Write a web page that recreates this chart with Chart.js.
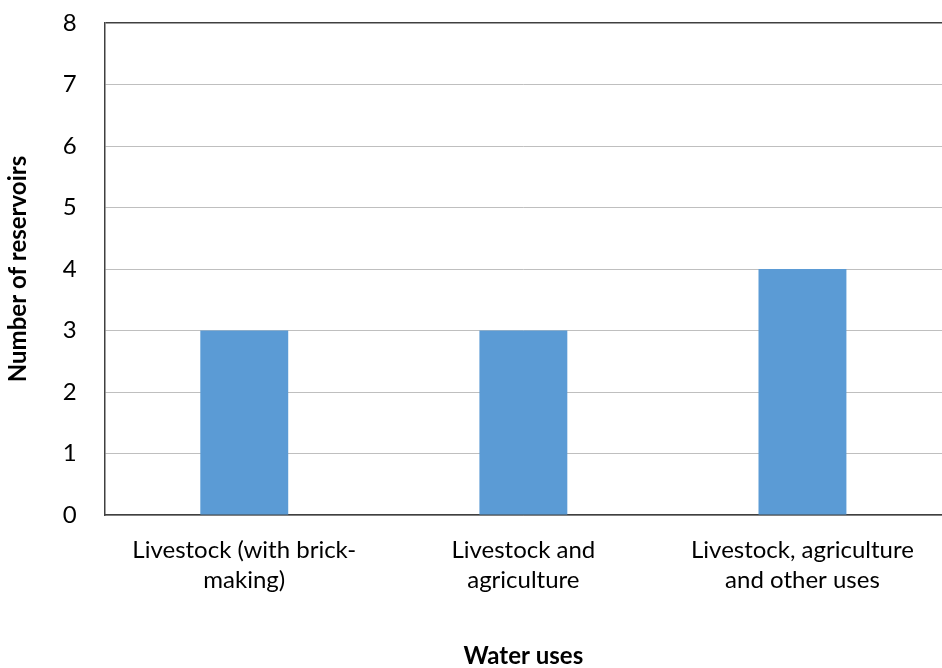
<!DOCTYPE html>
<html>
<head>
<meta charset="utf-8">
<script src="https://cdn.jsdelivr.net/npm/chart.js@4"></script>
<style>
  html, body { margin: 0; padding: 0; background: #fff; }
  #wrap { width: 942px; height: 668px; }
</style>
</head>
<body>
<div id="wrap"><canvas id="waterChart" width="942" height="668"></canvas></div>
<script>
// Reservoir counts per water use
const categories = [
    ['Livestock (with brick-', 'making)'],
    ['Livestock and', 'agriculture'],
    ['Livestock, agriculture', 'and other uses']
];
const reservoirCounts = [3, 3, 4];
const yTicks = [0, 1, 2, 3, 4, 5, 6, 7, 8];

const FONT = 'Lato, "Liberation Sans", sans-serif';

const ctx = document.getElementById('waterChart').getContext('2d');
const waterChart = new Chart(ctx, {
    type: 'bar',
    data: {
        labels: categories,
        datasets: [{
            label: 'Number of reservoirs',
            data: reservoirCounts,
            backgroundColor: '#5b9bd5',
            borderWidth: 0,
            categoryPercentage: 1,
            barPercentage: 0.315
        }]
    },
    options: {
        responsive: false,
        animation: false,
        devicePixelRatio: 1,
        layout: { padding: { top: 0, right: 0, left: 4, bottom: 0 } },
        plugins: {
            legend: { display: false },
            tooltip: { enabled: false }
        },
        scales: {
            x: {
                grid: { display: false, drawTicks: false },
                border: { display: true, color: '#404040', width: 1.5 },
                ticks: {
                    color: '#000',
                    padding: 20,
                    maxRotation: 0,
                    font: { family: FONT, size: 24, lineHeight: 1.25 }
                },
                title: {
                    display: true,
                    text: 'Water uses',
                    color: '#000',
                    padding: { top: 29, bottom: 0 },
                    font: { family: FONT, size: 24, weight: 'bold', lineHeight: 1 }
                }
            },
            y: {
                min: 0,
                max: 8,
                afterBuildTicks: axis => { axis.ticks = yTicks.map(v => ({ value: v })); },
                afterFit: axis => { axis.paddingTop = 23; },
                grid: {
                    drawTicks: false,
                    color: c => c.tick && c.tick.value === 8 ? '#404040' : '#bfbfbf',
                    lineWidth: c => c.tick && c.tick.value === 8 ? 1.5 : 1
                },
                border: { display: true, color: '#404040', width: 1.5 },
                ticks: {
                    color: '#000',
                    padding: 28,
                    font: { family: FONT, size: 24 }
                },
                title: {
                    display: true,
                    text: 'Number of reservoirs',
                    color: '#000',
                    padding: { top: 0, bottom: 2 },
                    font: { family: FONT, size: 24, weight: 'bold' }
                }
            }
        }
    }
});
</script>
</body>
</html>
